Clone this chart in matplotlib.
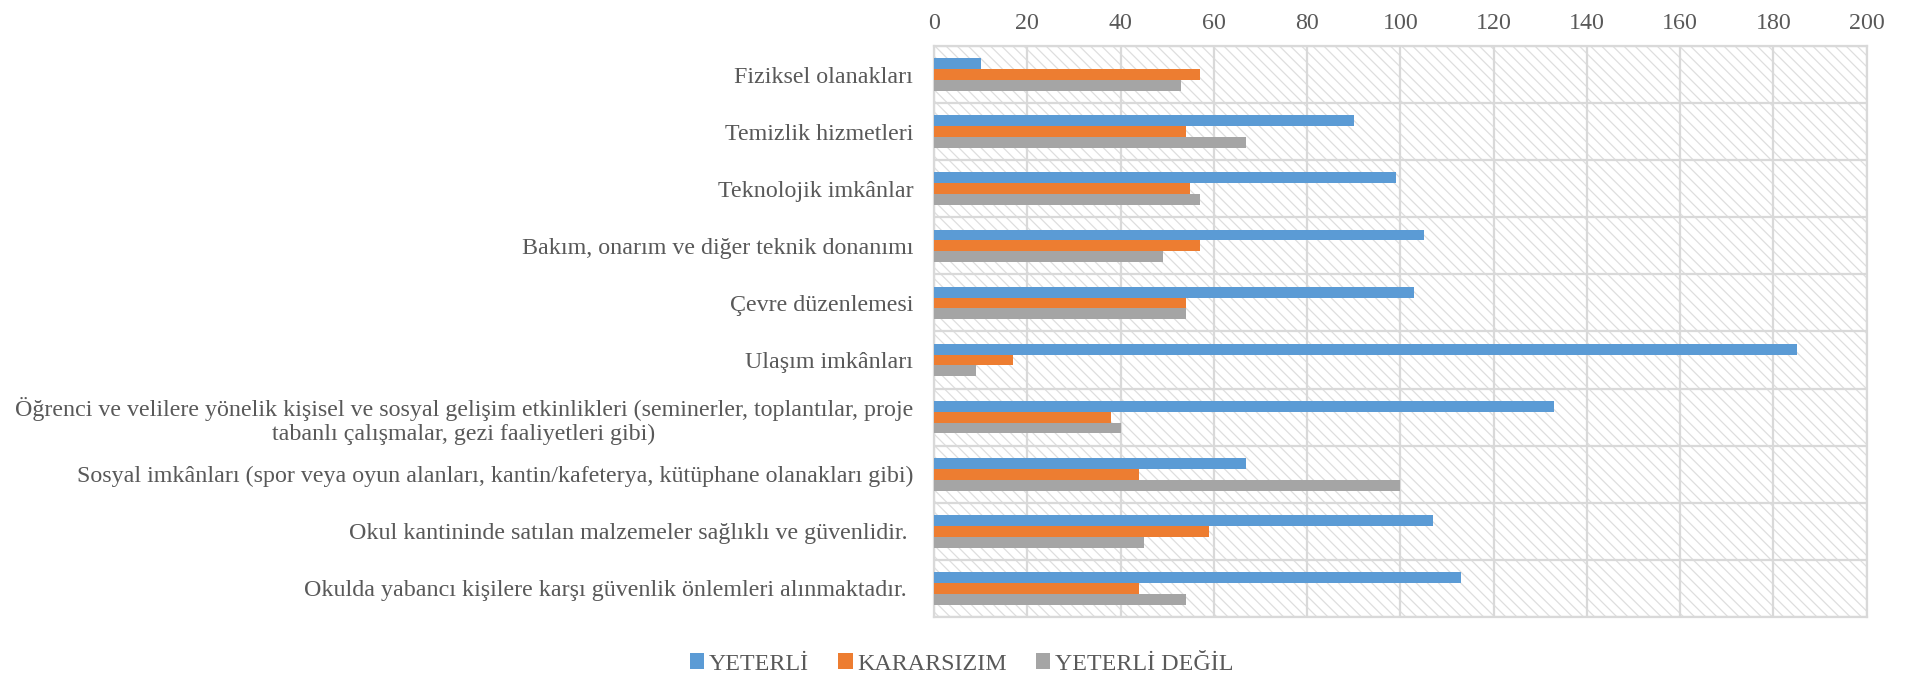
import matplotlib
matplotlib.use('Agg')
import matplotlib.pyplot as plt
import numpy as np

# survey items (top to bottom)
categories = [
    'Fiziksel olanakları',
    'Temizlik hizmetleri',
    'Teknolojik imkânlar',
    'Bakım, onarım ve diğer teknik donanımı',
    'Çevre düzenlemesi',
    'Ulaşım imkânları',
    'Öğrenci ve velilere yönelik kişisel ve sosyal gelişim etkinlikleri (seminerler, toplantılar, proje\n'
    'tabanlı çalışmalar, gezi faaliyetleri gibi)',
    'Sosyal imkânları (spor veya oyun alanları, kantin/kafeterya, kütüphane olanakları gibi)',
    'Okul kantininde satılan malzemeler sağlıklı ve güvenlidir. ',
    'Okulda yabancı kişilere karşı güvenlik önlemleri alınmaktadır. ',
]

yeterli = [10, 90, 99, 105, 103, 185, 133, 67, 107, 113]
kararsizim = [57, 54, 55, 57, 54, 17, 38, 44, 59, 44]
yeterli_degil = [53, 67, 57, 49, 54, 9, 40, 100, 45, 54]

series_names = ['YETERLİ', 'KARARSIZIM', 'YETERLİ DEĞİL']
colors = ['#5B9BD5', '#ED7D31', '#A5A5A5']
x_ticks = list(range(0, 201, 20))

plt.rcParams['font.family'] = ['Liberation Serif', 'DejaVu Serif']
plt.rcParams['hatch.linewidth'] = 0.9
text_color = '#595959'
grid_color = '#D9D9D9'
fs = 17.3

fig = plt.figure(figsize=(19.12, 6.81), dpi=100)
ax = fig.add_axes([0.4885, 0.094, 0.4878, 0.8385])

# hatched plot area
ax.patch.set_facecolor('white')
ax.patch.set_hatch('\\\\\\')
ax.patch.set_edgecolor('#DEDEDE')

y = np.arange(len(categories))
h = 0.19
for i, (vals, name) in enumerate(zip([yeterli, kararsizim, yeterli_degil], series_names)):
    ax.barh(y + (i - 1) * h, vals, height=h, color=colors[i], label=name,
            linewidth=0, zorder=3)

ax.set_xlim(0, 200)
ax.set_ylim(len(categories) - 0.5, -0.5)
ax.set_xticks(x_ticks)
ax.xaxis.tick_top()
ax.set_yticks(y)
ax.set_yticklabels(categories, multialignment='center')
ax.set_yticks(np.arange(len(categories) + 1) - 0.5, minor=True)

ax.tick_params(axis='x', length=0, pad=8.5, labelsize=fs, labelcolor=text_color)
ax.tick_params(axis='y', which='major', length=0, pad=15, labelsize=fs, labelcolor=text_color)
ax.tick_params(axis='y', which='minor', length=0)

ax.grid(axis='x', color=grid_color, linewidth=1.6, zorder=1)
ax.grid(axis='y', which='minor', color=grid_color, linewidth=1.6, zorder=1)
ax.set_axisbelow(True)
for s in ax.spines.values():
    s.set_color(grid_color)
    s.set_linewidth(1.6)

fig.legend(loc='center', bbox_to_anchor=(0.503, 0.025), ncol=3, frameon=False,
           fontsize=fs, labelcolor=text_color, handlelength=0.6, handleheight=0.6,
           handletextpad=0.2, columnspacing=1.2)

fig.savefig('out.png', dpi=100)
